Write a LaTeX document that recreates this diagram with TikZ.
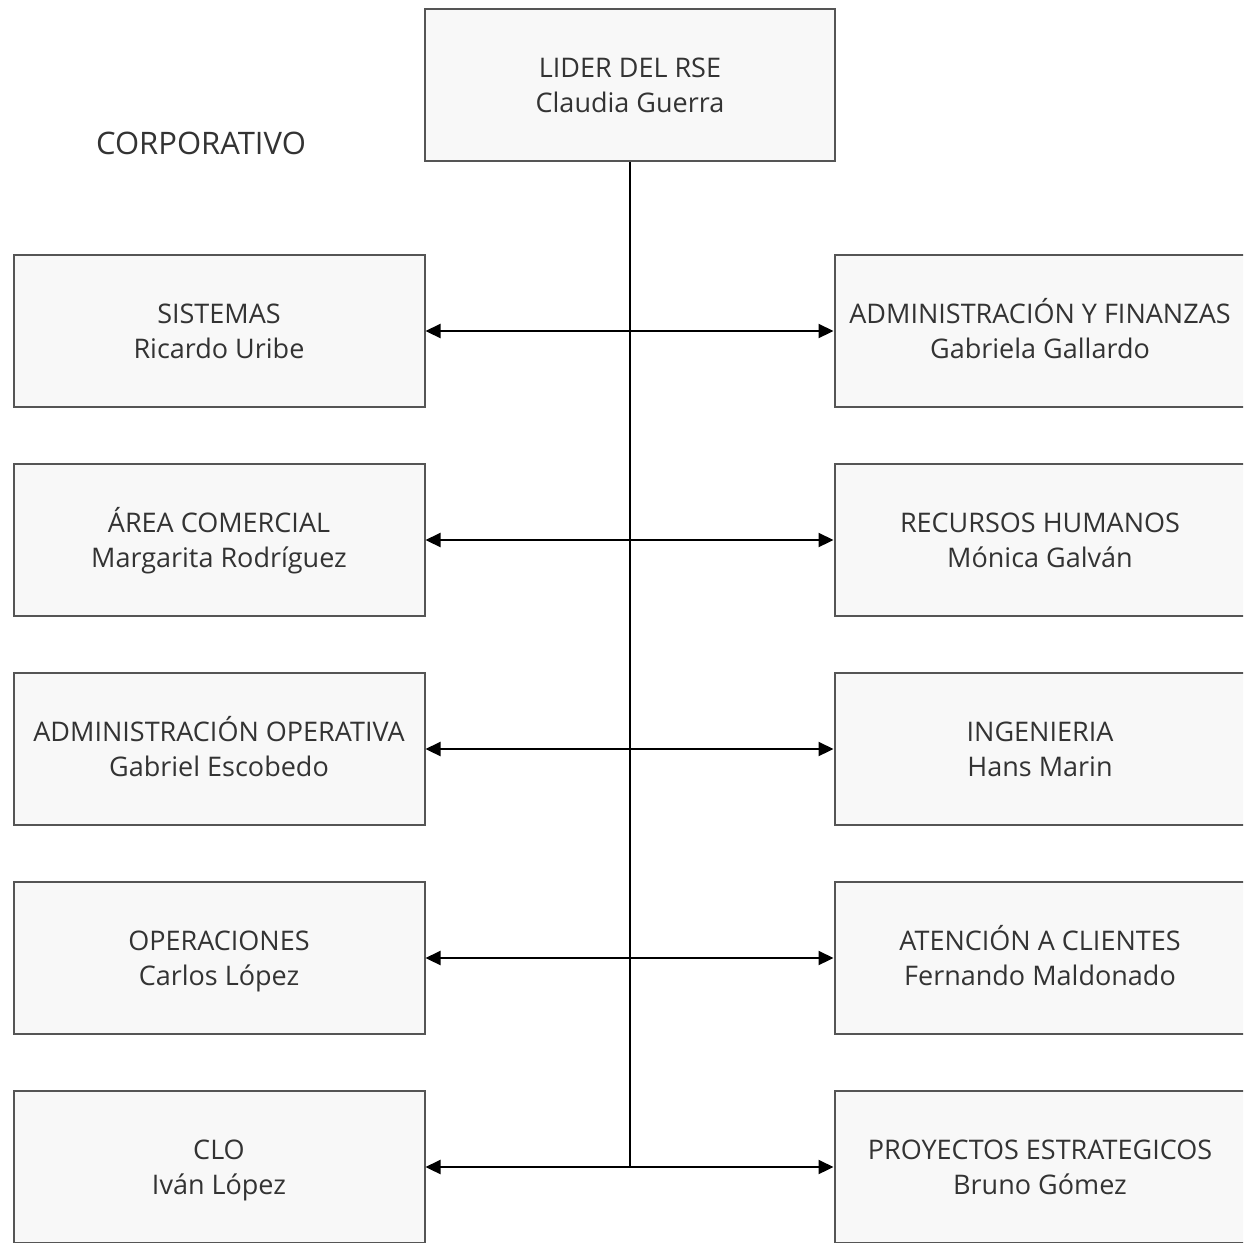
\documentclass[tikz,border=0pt]{standalone}
\usepackage{fontspec}
\setmainfont{Open Sans}
\usetikzlibrary{arrows.meta}
\definecolor{boxfill}{HTML}{F8F8F8}
\definecolor{boxline}{HTML}{555555}
\definecolor{txt}{HTML}{333333}
\newcommand{\twolines}[2]{\rule{0pt}{27.5pt}#1\\\rule[-7.5pt]{0pt}{7.5pt}#2}
\begin{document}
\begin{tikzpicture}[x=1pt,y=1pt,
  orgbox/.style={draw=boxline,line width=2pt,fill=boxfill,minimum width=411pt,minimum height=152pt,
    inner sep=0pt,align=center,text=txt,font=\fontsize{27}{35}\selectfont},
  link/.style={line width=2.2pt,{Triangle[length=15pt,width=14pt]}-{Triangle[length=15pt,width=14pt]}}]
\useasboundingbox (0,0) rectangle (1243,-1243);
\clip (0,0) rectangle (1243,-1243);
\fill[white] (0,0) rectangle (1243,-1243);
\node[orgbox,minimum width=410pt] (top) at (630,-85) {\twolines{LIDER DEL RSE}{Claudia Guerra}};
\node[text=txt,font=\fontsize{31}{35}\selectfont] (corp) at (201,-143) {CORPORATIVO};
\node[orgbox] (l1) at (219,-331) {\twolines{SISTEMAS}{Ricardo Uribe}};
\node[orgbox] (l2) at (219,-540) {\twolines{ÁREA COMERCIAL}{Margarita Rodríguez}};
\node[orgbox] (l3) at (219,-749) {\twolines{ADMINISTRACIÓN OPERATIVA}{Gabriel Escobedo}};
\node[orgbox] (l4) at (219,-958) {\twolines{OPERACIONES}{Carlos López}};
\node[orgbox] (l5) at (219,-1167) {\twolines{CLO}{Iván López}};
\node[orgbox] (r1) at (1040,-331) {\twolines{ADMINISTRACIÓN Y FINANZAS}{Gabriela Gallardo}};
\node[orgbox] (r2) at (1040,-540) {\twolines{RECURSOS HUMANOS}{Mónica Galván}};
\node[orgbox] (r3) at (1040,-749) {\twolines{INGENIERIA}{Hans Marin}};
\node[orgbox] (r4) at (1040,-958) {\twolines{ATENCIÓN A CLIENTES}{Fernando Maldonado}};
\node[orgbox] (r5) at (1040,-1167) {\twolines{PROYECTOS ESTRATEGICOS}{Bruno Gómez}};
\coordinate (bend) at (630,-1167);
\draw[line width=2.6pt] (top.south) -- (bend);
\foreach \i in {1,...,5}{
  \draw[link] (l\i.east) -- (r\i.west);
}
\end{tikzpicture}
\end{document}
